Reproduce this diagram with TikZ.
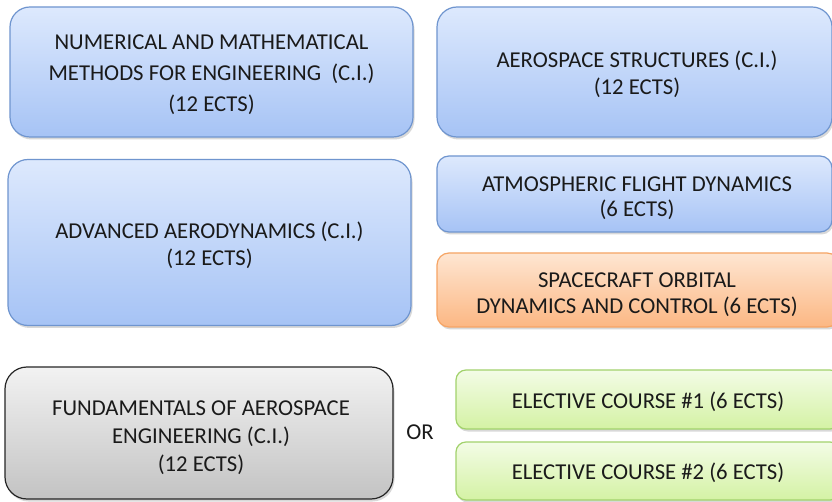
\documentclass[tikz,border=0pt]{standalone}
\usepackage{fontspec}
\setmainfont{Carlito}
\usetikzlibrary{shadows}
\definecolor{bluetop}{HTML}{DDE9FD}
\definecolor{bluebot}{HTML}{A6C3F5}
\definecolor{blueedge}{HTML}{6F95CF}
\definecolor{orgtop}{HTML}{FEE6D2}
\definecolor{orgbot}{HTML}{FCB783}
\definecolor{orgedge}{HTML}{F6A464}
\definecolor{grntop}{HTML}{F3FCE6}
\definecolor{grnbot}{HTML}{D4F2A4}
\definecolor{grnedge}{HTML}{A2D26C}
\definecolor{graytop}{HTML}{F2F2F2}
\definecolor{graybot}{HTML}{C3C3C3}
\definecolor{grayedge}{HTML}{262626}
\definecolor{txt}{HTML}{1A1A1A}
\tikzset{
  course/.style={rounded corners=#1, line width=1.2pt, inner sep=0pt,
    drop shadow={opacity=0.3, shadow xshift=1.5pt, shadow yshift=-2.5pt}},
  bluebox/.style={course=#1, draw=blueedge, top color=bluetop, bottom color=bluebot},
  orgbox/.style={course=#1, draw=orgedge, top color=orgtop, bottom color=orgbot},
  grnbox/.style={course=#1, draw=grnedge, top color=grntop, bottom color=grnbot},
  graybox/.style={course=#1, draw=grayedge, top color=graytop, bottom color=graybot},
  boxw/.style 2 args={minimum width=#1pt, minimum height=#2pt},
  label/.style={align=center, inner sep=0pt, text=txt,
    font=\fontsize{22.7}{#1}\selectfont},
  label/.default=27,
}
\begin{document}
\begin{tikzpicture}[x=1pt,y=-1pt]
\useasboundingbox (0,0) rectangle (832,502);
\clip (0,0) rectangle (832,502);
\fill[white] (0,0) rectangle (832,502);
% boxes
\node[bluebox=20pt, boxw={403}{130}] (num) at (211.5,72) {};
\node[bluebox=20pt, boxw={395}{130}] (aes) at (634.5,72) {};
\node[bluebox=20pt, boxw={403}{166}] (aero) at (209.5,242.5) {};
\node[bluebox=12pt, boxw={395}{76}] (afd) at (634.5,194) {};
\node[orgbox=12pt, boxw={402}{74}] (sodc) at (638,290) {};
\node[graybox=22pt, boxw={388}{132}] (fae) at (199,433) {};
\node[grnbox=10pt, boxw={384}{59}] (el1) at (648,399.5) {};
\node[grnbox=10pt, boxw={384}{58}] (el2) at (648,471) {};
% texts
\node[label=31] (numt) at ([shift={(0pt,-3pt)}]num.center)
  {NUMERICAL AND MATHEMATICAL\\ METHODS FOR ENGINEERING\ \ (C.I.)\\ (12 ECTS)};
\node[label=27] (aest) at ([shift={(2.5pt,-2pt)}]aes.center)
  {AEROSPACE STRUCTURES (C.I.)\\ (12 ECTS)};
\node[label=27] (aerot) at ([shift={(0pt,-2.5pt)}]aero.center)
  {ADVANCED AERODYNAMICS (C.I.)\\ (12 ECTS)};
\node[label=25] (afdt) at ([shift={(2.5pt,-4pt)}]afd.center)
  {ATMOSPHERIC FLIGHT DYNAMICS\\ (6 ECTS)};
\node[label=26] (sodct) at ([shift={(-1pt,-5pt)}]sodc.center)
  {SPACECRAFT ORBITAL\\ DYNAMICS AND CONTROL (6 ECTS)};
\node[label=28] (faet) at ([shift={(2pt,-5pt)}]fae.center)
  {FUNDAMENTALS OF AEROSPACE\\ ENGINEERING (C.I.)\\ (12 ECTS)};
\node[label] (or) at (420,432) {OR};
\node[label] (el1t) at ([shift={(0pt,-2.5pt)}]el1.center)
  {ELECTIVE COURSE \#1 (6 ECTS)};
\node[label] (el2t) at ([shift={(0pt,-2pt)}]el2.center)
  {ELECTIVE COURSE \#2 (6 ECTS)};
\end{tikzpicture}
\end{document}
